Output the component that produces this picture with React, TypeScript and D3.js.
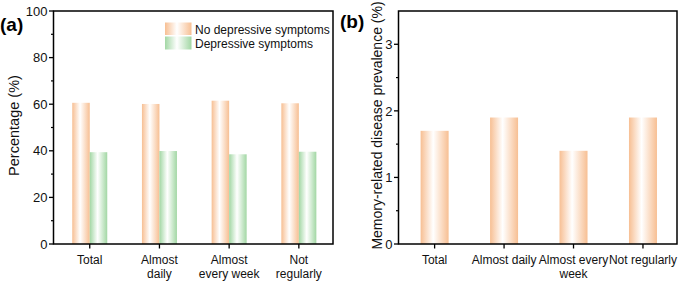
import React from "react";
import * as d3 from "d3";

const categoriesA: string[][] = [["Total"], ["Almost", "daily"], ["Almost", "every week"], ["Not", "regularly"]];
const categoriesB: string[][] = [["Total"], ["Almost daily"], ["Almost every", "week"], ["Not regularly"]];
const noDepressive = [60.6, 60.1, 61.5, 60.4];
const depressive = [39.4, 39.9, 38.5, 39.6];
const memoryPrevalence = [1.7, 1.9, 1.4, 1.9];
const ticksA = [0, 20, 40, 60, 80, 100];
const minorA = [10, 30, 50, 70, 90];
const ticksB = [0, 1, 2, 3];
const minorB = [0.5, 1.5, 2.5];
const legendLabels = ["No depressive symptoms", "Depressive symptoms"];

const FONT = "Arial, 'Liberation Sans', sans-serif";
const ORANGE = "#f7bf93";
const GREEN = "#a2d7a4";

function Panel(props: {
  x0: number; x1: number; y0: number; y1: number;
  domain: [number, number]; ticks: number[]; minor: number[];
  cats: string[][]; yLabel: string; yLabelX: number; yLabelSize: number;
  children: (x: d3.ScaleLinear<number, number>, y: d3.ScaleLinear<number, number>) => React.ReactNode;
}) {
  const { x0, x1, y0, y1 } = props;
  const x = d3.scaleLinear().domain([0.48, 4.49]).range([x0, x1]);
  const y = d3.scaleLinear().domain(props.domain).range([y1, y0]);
  const yMid = (y0 + y1) / 2 - 2;
  return (
    <g>
      {props.children(x, y)}
      <rect x={x0} y={y0} width={x1 - x0} height={y1 - y0} fill="none" stroke="#000" strokeWidth={1.5} />
      {props.ticks.map((t) => (
        <g key={"t" + t}>
          <line x1={x0 - 4.5} x2={x0} y1={y(t)} y2={y(t)} stroke="#000" strokeWidth={1.3} />
          <text x={x0 - 6} y={y(t)} dy="0.36em" textAnchor="end" fontSize={13} fontFamily={FONT} fill="#111">{t}</text>
        </g>
      ))}
      {props.minor.map((t) => (
        <line key={"m" + t} x1={x0 - 2.5} x2={x0} y1={y(t)} y2={y(t)} stroke="#000" strokeWidth={1.2} />
      ))}
      {props.cats.map((lines, i) => (
        <g key={"c" + i}>
          <line x1={x(i + 1)} x2={x(i + 1)} y1={y1} y2={y1 + 4.5} stroke="#000" strokeWidth={1.3} />
          {lines.map((l, j) => (
            <text key={j} x={x(i + 1)} y={264 + j * 14} textAnchor="middle" fontSize={12} fontFamily={FONT} fill="#111">{l}</text>
          ))}
        </g>
      ))}
      <text transform={`translate(${props.yLabelX},${yMid}) rotate(-90)`} textAnchor="middle" fontSize={props.yLabelSize} fontFamily={FONT} fill="#111">{props.yLabel}</text>
    </g>
  );
}

export default function App() {
  const bw = 17.5;
  return (
    <svg width={685} height={283} style={{ position: "absolute", left: 0, top: 0, background: "#fff" }}>
      <defs>
        <linearGradient id="gOr" x1="0" x2="1" y1="0" y2="0">
          <stop offset="0" stopColor={ORANGE} />
          <stop offset="0.45" stopColor="#ffffff" />
          <stop offset="1" stopColor={ORANGE} />
        </linearGradient>
        <linearGradient id="gGr" x1="0" x2="1" y1="0" y2="0">
          <stop offset="0" stopColor={GREEN} />
          <stop offset="0.45" stopColor="#ffffff" />
          <stop offset="1" stopColor={GREEN} />
        </linearGradient>
      </defs>
      <rect x={0} y={0} width={685} height={283} fill="#fff" />
      <Panel x0={53.5} x1={333} y0={11} y1={244} domain={[0, 100]} ticks={ticksA} minor={minorA}
        cats={categoriesA} yLabel="Percentage (%)" yLabelX={19} yLabelSize={14.5}>
        {(x, y) => (
          <g>
            {noDepressive.map((v, i) => (
              <rect key={"o" + i} x={x(i + 1) - bw} y={y(v)} width={bw} height={y(0) - y(v)} fill="url(#gOr)" />
            ))}
            {depressive.map((v, i) => (
              <rect key={"g" + i} x={x(i + 1)} y={y(v)} width={bw} height={y(0) - y(v)} fill="url(#gGr)" />
            ))}
          </g>
        )}
      </Panel>
      <Panel x0={398.5} x1={677} y0={11} y1={244} domain={[0, 3.5]} ticks={ticksB} minor={minorB}
        cats={categoriesB} yLabel="Memory-related disease prevalence (%)" yLabelX={382} yLabelSize={14}>
        {(x, y) => (
          <g>
            {memoryPrevalence.map((v, i) => (
              <rect key={"b" + i} x={x(i + 1) - 14} y={y(v)} width={28} height={y(0) - y(v)} fill="url(#gOr)" />
            ))}
          </g>
        )}
      </Panel>
      <g>
        <rect x={165} y={22.5} width={26.5} height={12.5} fill="url(#gOr)" />
        <rect x={165} y={36.5} width={26.5} height={13} fill="url(#gGr)" />
        <text x={195} y={33.5} fontSize={12} fontFamily={FONT} fill="#111">{legendLabels[0]}</text>
        <text x={195} y={47.5} fontSize={12} fontFamily={FONT} fill="#111">{legendLabels[1]}</text>
      </g>
      <text x={0} y={31} fontSize={19} fontWeight="bold" fontFamily={FONT} fill="#000">(a)</text>
      <text x={340} y={28} fontSize={19} fontWeight="bold" fontFamily={FONT} fill="#000">(b)</text>
    </svg>
  );
}
